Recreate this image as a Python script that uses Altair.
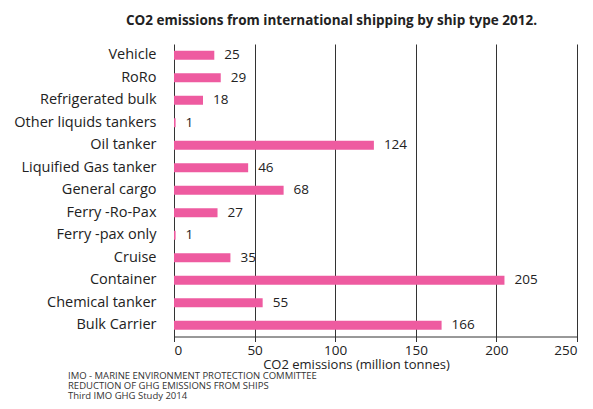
import altair as alt
import pandas as pd

ship_types = ["Vehicle", "RoRo", "Refrigerated bulk", "Other liquids tankers", "Oil tanker",
              "Liquified Gas tanker", "General cargo", "Ferry -Ro-Pax", "Ferry -pax only",
              "Cruise", "Container", "Chemical tanker", "Bulk Carrier"]
emissions = [25, 29, 18, 1, 124, 46, 68, 27, 1, 35, 205, 55, 166]
footer_lines = ["IMO - MARINE ENVIRONMENT PROTECTION COMMITTEE",
                "REDUCTION OF GHG EMISSIONS FROM SHIPS",
                "Third IMO GHG Study 2014"]

df = pd.DataFrame({"type": ship_types, "value": emissions})
foot = pd.DataFrame({"txt": ["\n".join(footer_lines)]})

FONT = "Open Sans"
PINK = "#EE5BA0"

x = alt.X("value:Q", scale=alt.Scale(domain=[0, 250], nice=False),
          axis=alt.Axis(values=[0, 50, 100, 150, 200, 250], title="CO2 emissions (million tonnes)",
                        grid=True, gridColor="#333333", gridOpacity=1, gridWidth=1,
                        domainColor="#333333", tickColor="#333333", tickSize=5,
                        labelFont=FONT, labelFontSize=13.5, labelColor="#222222", labelPadding=2,
                        titleFont=FONT, titleFontSize=13, titleFontWeight="normal",
                        titleColor="#222222", titleX=182, titleY=22, titlePadding=0))
y = alt.Y("type:N", sort=ship_types,
          scale=alt.Scale(paddingInner=0.6, paddingOuter=0.3),
          axis=alt.Axis(title=None, ticks=False, domain=False, labelFont=FONT,
                        labelFontSize=14.5, labelColor="#222222", labelPadding=18, grid=False,
                        labelLimit=300))

bars = alt.Chart(df).mark_bar(color=PINK).encode(x=x, y=y)
labels = alt.Chart(df).mark_text(align="left", dx=10, font=FONT, fontSize=13.5, color="#222222").encode(
    x="value:Q", y=alt.Y("type:N", sort=ship_types), text="value:Q")
footer = alt.Chart(foot).mark_text(align="left", baseline="middle", font=FONT, fontSize=9.5,
                                   color="#333333", lineBreak="\n", lineHeight=10).encode(
    x=alt.value(-106), y=alt.value(332), text="txt:N")

chart = alt.layer(bars, labels, footer).properties(
    width=403, height=292.5,
    autosize=alt.AutoSizeParams(type="none"),
    padding={"left": 166, "top": 36, "right": 8, "bottom": 64},
    title=alt.TitleParams("CO2 emissions from international shipping by ship type 2012.",
                          font=FONT, fontSize=13.5, fontWeight="bold", color="#222222",
                          anchor="middle", dx=-44, offset=17)
).configure_view(stroke=None)

chart.save("out.html", embed_options={"renderer": "svg", "actions": False})
